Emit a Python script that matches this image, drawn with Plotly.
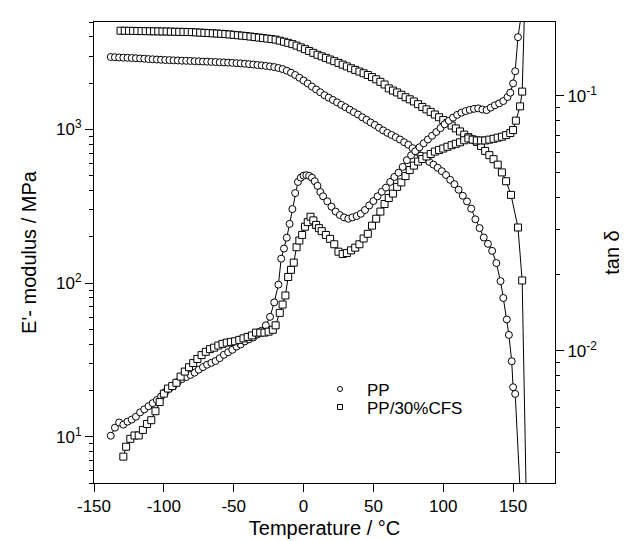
from plotly import graph_objects as go

# E' modulus, PP (circles)
t_pp_e = [
    -138, -135, -132, -129, -126, -123, -120, -117, -114, -111, -108, -105,
    -102, -99, -96, -93, -90, -87, -84, -81, -78, -75, -72, -69, -66, -63,
    -60, -57, -54, -51, -48, -45, -42, -39, -36, -33, -30, -27, -24, -21,
    -18, -15, -12, -9, -6, -3, 0, 3, 6, 9, 12, 15, 18, 21, 24, 27, 30, 33,
    36, 39, 42, 45, 48, 51, 54, 57, 60, 63, 66, 69, 72, 75, 78, 81, 84, 87,
    90, 93, 96, 99, 102, 105, 108, 111, 114, 117, 120, 123, 126, 129, 132,
    135, 138, 141, 143, 145.5, 147, 149, 150, 151.5, 156,
]
e_pp = [
    2960, 2950, 2940, 2930, 2925, 2915, 2905, 2895, 2885, 2870, 2860, 2850,
    2840, 2830, 2825, 2815, 2810, 2800, 2795, 2790, 2780, 2775, 2765, 2760,
    2750, 2745, 2735, 2730, 2720, 2710, 2700, 2690, 2675, 2660, 2645, 2625,
    2610, 2590, 2570, 2545, 2510, 2470, 2410, 2340, 2260, 2170, 2080, 1990,
    1900, 1820, 1745, 1670, 1610, 1555, 1500, 1445, 1395, 1345, 1295, 1250,
    1200, 1155, 1110, 1070, 1025, 985, 950, 920, 890, 860, 825, 795, 755,
    715, 675, 645, 615, 590, 563, 535, 505, 470, 440, 405, 370, 340, 305,
    260, 228, 198, 180, 162, 135, 103, 80, 58, 46, 31, 21, 19, 3,
]

# E' modulus, PP/30%CFS (squares)
t_cfs_e = [
    -131, -128, -125, -122, -119, -116, -113, -110, -107, -104, -101, -98,
    -95, -92, -89, -86, -83, -80, -77, -74, -71, -68, -65, -62, -59, -56,
    -53, -50, -47, -44, -41, -38, -35, -32, -29, -26, -23, -20, -17, -14,
    -11, -8, -5, -2, 1, 4, 7, 10, 13, 16, 19, 22, 25, 28, 31, 34, 37, 40,
    43, 46, 49, 52, 55, 58, 61, 64, 67, 70, 73, 76, 79, 82, 85, 88, 91, 94,
    97, 100, 103, 106, 109, 112, 115, 118, 121, 124, 127, 130, 133, 136,
    139, 142, 145, 148.5, 153.5, 156.5, 160,
]
e_cfs = [
    4390, 4385, 4380, 4375, 4370, 4365, 4360, 4355, 4350, 4345, 4340, 4335,
    4330, 4320, 4315, 4310, 4305, 4295, 4280, 4265, 4250, 4235, 4220, 4205,
    4190, 4170, 4150, 4125, 4100, 4075, 4050, 4020, 3990, 3960, 3930, 3900,
    3870, 3840, 3780, 3720, 3660, 3590, 3510, 3420, 3330, 3240, 3150, 3060,
    2990, 2920, 2850, 2780, 2710, 2640, 2570, 2500, 2440, 2380, 2320, 2260,
    2190, 2120, 2040, 1960, 1850, 1790, 1740, 1680, 1620, 1570, 1520, 1460,
    1400, 1350, 1300, 1250, 1200, 1150, 1100, 1060, 1015, 970, 925, 890,
    860, 830, 780, 725, 680, 640, 590, 525, 460, 375, 230, 104, 2.1,
]

# tan delta, PP (circles)
t_pp_tan = [
    -138, -135, -132, -129, -126, -123, -120, -117, -114, -111, -108, -105,
    -102, -99, -96, -93, -90, -87, -84, -81, -78, -75, -72, -69, -66, -63,
    -60, -57, -54, -51, -48, -45, -42, -39, -36, -33, -30, -27, -24, -21,
    -18, -16, -14, -12, -10, -8, -6, -4, -2, 0, 2, 4, 6, 8, 10, 12, 14, 17,
    20, 23, 26, 29, 32, 35, 38, 41, 44, 47, 50, 53, 56, 59, 62, 65, 68, 71,
    74, 77, 80, 83, 86, 89, 92, 95, 98, 101, 104, 107, 110, 113, 116, 119,
    122, 125, 128, 131, 134, 137, 140, 143, 146, 148, 150, 151.5, 153.5,
    156.5,
]
tan_pp = [
    0.00465, 0.0050, 0.00524, 0.00514, 0.00528, 0.00538, 0.00552, 0.00574,
    0.00590, 0.00607, 0.00624, 0.00642, 0.00663, 0.0069, 0.00713, 0.00733,
    0.00756, 0.00776, 0.0079, 0.00805, 0.00822, 0.00844, 0.00864, 0.00883,
    0.00898, 0.00913, 0.00937, 0.00966, 0.00988, 0.0101, 0.0104, 0.0106,
    0.0109, 0.0111, 0.0113, 0.0116, 0.0120, 0.0126, 0.0136, 0.0155, 0.0182,
    0.023, 0.0252, 0.0278, 0.0315, 0.036, 0.0416, 0.0460, 0.0478, 0.0487,
    0.0489, 0.0486, 0.0478, 0.0463, 0.0444, 0.042, 0.0404, 0.0386, 0.0368,
    0.0352, 0.0341, 0.0334, 0.0330, 0.0334, 0.0338, 0.0345, 0.0357, 0.0372,
    0.0387, 0.0404, 0.0421, 0.0437, 0.046, 0.0481, 0.050, 0.0527, 0.056,
    0.0585, 0.0607, 0.0629, 0.0652, 0.0675, 0.0698, 0.0722, 0.0748, 0.0774,
    0.0799, 0.0822, 0.0843, 0.0860, 0.0872, 0.0882, 0.0890, 0.0894, 0.0885,
    0.0880, 0.090, 0.0919, 0.0935, 0.0955, 0.0990, 0.1030, 0.1120, 0.125,
    0.170, 0.22,
]

# tan delta, PP/30%CFS (squares)
t_cfs_tan = [
    -129, -127, -124, -121, -118, -115, -112, -109, -106, -103, -100, -97,
    -94, -91, -88, -85, -82, -79, -76, -73, -70, -67, -64, -61, -58, -55,
    -52, -49, -46, -43, -40, -37, -34, -31, -28, -25, -22, -20, -17, -15,
    -13, -11, -9, -7, -5, -3, -1, 1, 3, 5, 7, 9, 11, 13, 16, 19, 22, 25, 28,
    31, 34, 37, 40, 43, 46, 49, 52, 55, 58, 61, 64, 67, 70, 73, 76, 79, 82,
    85, 88, 91, 94, 97, 100, 103, 106, 109, 112, 115, 118, 121, 124, 127,
    130, 133, 136, 139, 142, 145, 148, 150, 152, 155, 156.5, 158.5,
]
tan_cfs = [
    0.00385, 0.00421, 0.00452, 0.00466, 0.00466, 0.0049, 0.00517, 0.00535,
    0.00580, 0.0063, 0.00680, 0.00712, 0.00728, 0.00750, 0.00793, 0.0083,
    0.00863, 0.00896, 0.0093, 0.00963, 0.00992, 0.01016, 0.0103, 0.0105,
    0.01066, 0.01078, 0.01085, 0.01091, 0.01105, 0.0112, 0.01135, 0.0115,
    0.0118, 0.0118, 0.0118, 0.0119, 0.0121, 0.0126, 0.0141, 0.0152, 0.0165,
    0.0195, 0.0208, 0.0222, 0.0255, 0.0271, 0.0285, 0.0307, 0.0320, 0.0336,
    0.0325, 0.0312, 0.0303, 0.0295, 0.0285, 0.0275, 0.0262, 0.0245, 0.0240,
    0.0242, 0.0248, 0.0254, 0.0262, 0.0276, 0.0288, 0.031, 0.0330, 0.0352,
    0.0377, 0.0398, 0.0414, 0.0440, 0.0458, 0.0485, 0.0512, 0.0533, 0.0553,
    0.0566, 0.0579, 0.0592, 0.0605, 0.0614, 0.0622, 0.0632, 0.0641, 0.0649,
    0.0658, 0.0670, 0.0681, 0.0674, 0.0669, 0.0669, 0.0669, 0.0674, 0.0679,
    0.0686, 0.0692, 0.0702, 0.0715, 0.0735, 0.080, 0.091, 0.104, 0.25,
]

x_ticks = [-150, -100, -50, 0, 50, 100, 150]
x_labels = ["-150", "-100", "-50", "0", "50", "100", "150"]
e_ticks = [10, 100, 1000]
e_labels = ["10<sup>1</sup>", "10<sup>2</sup>", "10<sup>3</sup>"]
tan_ticks = [0.01, 0.1]
tan_labels = ["10<sup>-2</sup>", "10<sup>-1</sup>"]

FONT = "Liberation Sans, Arial, sans-serif"

fig = go.Figure()

series = [
    (t_pp_e, e_pp, "circle", "y"),
    (t_cfs_e, e_cfs, "square", "y"),
    (t_pp_tan, tan_pp, "circle", "y2"),
    (t_cfs_tan, tan_cfs, "square", "y2"),
]
for t, v, symbol, axis in series:
    fig.add_trace(
        go.Scatter(
            x=t,
            y=v,
            yaxis=axis,
            mode="lines+markers",
            line=dict(color="black", width=1),
            marker=dict(
                symbol=symbol,
                size=7,
                color="white",
                line=dict(color="black", width=1),
            ),
            showlegend=False,
        )
    )

# legend entries (markers only), one legend box per row to keep rows tight
for name, symbol, leg in [("PP", "circle", "legend"), ("PP/30%CFS", "square", "legend2")]:
    fig.add_trace(
        go.Scatter(
            x=[None],
            y=[None],
            mode="markers",
            name=name,
            legend=leg,
            marker=dict(
                symbol=symbol,
                size=5,
                color="white",
                line=dict(color="black", width=1),
            ),
        )
    )

minor_e = [m * 10**d for d in range(0, 4) for m in range(2, 10)]
minor_tan = [m * 10.0**d for d in range(-3, 0) for m in range(2, 10)]

axis_common = dict(
    showline=True,
    linecolor="black",
    linewidth=1,
    ticks="outside",
    ticklen=8,
    tickcolor="black",
    showgrid=False,
    zeroline=False,
    automargin=False,
    tickfont=dict(size=17, color="black"),
)

legend_common = dict(
    xanchor="left",
    yanchor="top",
    bgcolor="rgba(0,0,0,0)",
    font=dict(size=17),
    itemwidth=44,
)

fig.update_layout(
    width=627,
    height=541,
    margin=dict(l=86, r=80, t=14, b=66),
    paper_bgcolor="white",
    plot_bgcolor="white",
    font=dict(family=FONT, size=17, color="black"),
    xaxis=dict(
        range=[-150, 180],
        tickmode="array",
        tickvals=x_ticks,
        ticktext=x_labels,
        mirror=True,
        title=dict(text="Temperature / °C", standoff=5),
        **axis_common,
    ),
    yaxis=dict(
        type="log",
        range=[0.699, 3.699],
        tickmode="array",
        tickvals=e_ticks,
        ticktext=e_labels,
        minor=dict(
            tickmode="array",
            tickvals=minor_e,
            ticks="outside",
            ticklen=4,
            tickcolor="black",
            showgrid=False,
        ),
        title=dict(text="E'- modulus / MPa", standoff=14),
        **axis_common,
    ),
    yaxis2=dict(
        type="log",
        overlaying="y",
        side="right",
        range=[-2.518, -0.71],
        tickmode="array",
        tickvals=tan_ticks,
        ticktext=tan_labels,
        minor=dict(
            tickmode="array",
            tickvals=minor_tan,
            ticks="outside",
            ticklen=4,
            tickcolor="black",
            showgrid=False,
        ),
        title=dict(text="tan δ", standoff=8),
        **axis_common,
    ),
    legend=dict(x=0.475, y=0.242, **legend_common),
    legend2=dict(x=0.475, y=0.203, **legend_common),
)

fig.write_html("out.html")
